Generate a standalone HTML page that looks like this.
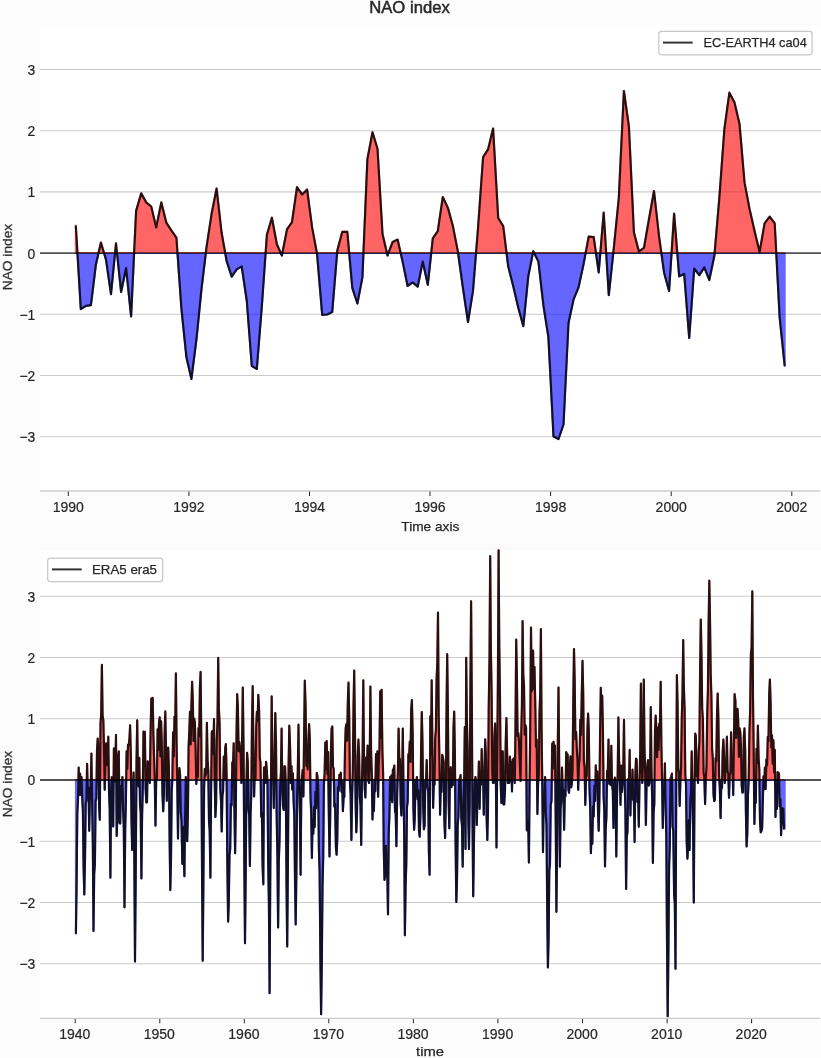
<!DOCTYPE html>
<html><head><meta charset="utf-8"><title>NAO index</title>
<style>
html,body{margin:0;padding:0;background:#fcfcfc;}
body{width:821px;height:1058px;overflow:hidden;position:relative;font-family:"Liberation Sans", sans-serif;}
.t{font-family:"Liberation Sans", sans-serif;font-size:13.4px;fill:#262626;stroke:#262626;stroke-width:0.25px;filter:url(#ga);}
.d{font-family:"Liberation Sans", sans-serif;font-size:13.9px;fill:#262626;stroke:#262626;stroke-width:0.2px;filter:url(#ga);}
</style></head><body>
<svg width="821" height="1058" viewBox="0 0 821 1058" style="position:absolute;left:0;top:0">
<defs><filter id="ga" x="-5%" y="-50%" width="110%" height="200%" color-interpolation-filters="sRGB"><feOffset dx="0" dy="0"/></filter></defs>
<rect x="0" y="0" width="821" height="1058" fill="#fcfcfc"/>
<rect x="40" y="25" width="781" height="466" fill="#ffffff"/>
<rect x="40" y="551" width="781" height="467" fill="#ffffff"/>
<line x1="40" x2="821" y1="69.5" y2="69.5" stroke="#cccccc" stroke-width="1.1"/>
<line x1="40" x2="821" y1="130.7" y2="130.7" stroke="#cccccc" stroke-width="1.1"/>
<line x1="40" x2="821" y1="191.9" y2="191.9" stroke="#cccccc" stroke-width="1.1"/>
<line x1="40" x2="821" y1="314.3" y2="314.3" stroke="#cccccc" stroke-width="1.1"/>
<line x1="40" x2="821" y1="375.5" y2="375.5" stroke="#cccccc" stroke-width="1.1"/>
<line x1="40" x2="821" y1="436.7" y2="436.7" stroke="#cccccc" stroke-width="1.1"/>
<clipPath id="up1"><rect x="0" y="25" width="821" height="228.1"/></clipPath>
<clipPath id="dn1"><rect x="0" y="253.1" width="821" height="237.9"/></clipPath>
<g clip-path="url(#up1)"><path d="M75.8,225.5 L80.8,309.1 L85.9,305.9 L90.9,305.2 L95.9,264.5 L100.9,242.6 L106.0,259.6 L111.0,294.2 L116.0,243.3 L121.1,292.0 L126.1,268.1 L131.1,316.4 L136.1,210.9 L141.2,193.4 L146.2,202.4 L151.2,206.5 L156.2,227.5 L161.3,202.4 L166.3,222.6 L171.3,230.4 L176.4,237.7 L181.4,308.3 L186.4,357.1 L191.4,379.0 L196.5,338.8 L201.5,288.9 L206.5,247.4 L211.6,213.8 L216.6,188.5 L221.6,232.8 L226.6,260.8 L231.7,276.7 L236.7,269.4 L241.7,266.4 L246.8,301.0 L251.8,366.0 L256.8,369.0 L261.8,306.7 L266.9,234.8 L271.9,217.7 L276.9,244.5 L281.9,255.5 L287.0,229.4 L292.0,222.1 L297.0,187.2 L302.1,194.5 L307.1,189.6 L312.1,227.4 L317.1,254.3 L322.2,314.8 L327.2,314.5 L332.2,312.1 L337.3,250.6 L342.3,231.8 L347.3,231.8 L352.3,287.9 L357.4,303.5 L362.4,277.4 L367.4,159.1 L372.5,132.3 L377.5,148.9 L382.5,234.0 L387.5,255.5 L392.6,242.1 L397.6,239.6 L402.6,261.6 L407.6,286.0 L412.7,282.3 L417.7,286.7 L422.7,261.6 L427.8,284.8 L432.8,238.4 L437.8,231.1 L442.8,197.0 L447.9,207.9 L452.9,226.1 L457.9,251.7 L463.0,288.3 L468.0,322.0 L473.0,290.7 L478.0,228.5 L483.1,157.1 L488.1,149.3 L493.1,128.5 L498.2,218.0 L503.2,226.1 L508.2,266.3 L513.2,285.9 L518.3,307.8 L523.3,326.1 L528.3,276.1 L533.3,251.2 L538.4,261.5 L543.4,305.4 L548.4,337.1 L553.5,436.4 L558.5,439.0 L563.5,424.5 L568.5,323.0 L573.6,299.3 L578.6,287.1 L583.6,263.9 L588.7,236.6 L593.7,237.1 L598.7,272.4 L603.7,212.7 L608.8,295.1 L613.8,248.0 L618.8,198.0 L623.9,91.0 L628.9,126.3 L633.9,232.4 L638.9,251.5 L644.0,247.8 L649.0,219.0 L654.0,191.0 L659.0,236.1 L664.1,272.7 L669.1,291.0 L674.1,213.7 L679.2,276.3 L684.2,273.9 L689.2,338.0 L694.2,268.5 L699.3,275.1 L704.3,267.3 L709.3,280.0 L714.4,255.6 L719.4,197.1 L724.4,128.8 L729.4,92.7 L734.5,102.4 L739.5,123.9 L744.5,182.4 L749.6,209.3 L754.6,231.2 L759.6,252.0 L764.6,223.4 L769.7,216.6 L774.7,223.4 L779.7,318.0 L784.7,366.0 L784.7,253.1 L75.8,253.1 Z" fill="#ff0000" stroke="#ff0000" stroke-width="2.0" stroke-linejoin="round" opacity="0.6"/></g>
<g clip-path="url(#dn1)"><path d="M75.8,225.5 L80.8,309.1 L85.9,305.9 L90.9,305.2 L95.9,264.5 L100.9,242.6 L106.0,259.6 L111.0,294.2 L116.0,243.3 L121.1,292.0 L126.1,268.1 L131.1,316.4 L136.1,210.9 L141.2,193.4 L146.2,202.4 L151.2,206.5 L156.2,227.5 L161.3,202.4 L166.3,222.6 L171.3,230.4 L176.4,237.7 L181.4,308.3 L186.4,357.1 L191.4,379.0 L196.5,338.8 L201.5,288.9 L206.5,247.4 L211.6,213.8 L216.6,188.5 L221.6,232.8 L226.6,260.8 L231.7,276.7 L236.7,269.4 L241.7,266.4 L246.8,301.0 L251.8,366.0 L256.8,369.0 L261.8,306.7 L266.9,234.8 L271.9,217.7 L276.9,244.5 L281.9,255.5 L287.0,229.4 L292.0,222.1 L297.0,187.2 L302.1,194.5 L307.1,189.6 L312.1,227.4 L317.1,254.3 L322.2,314.8 L327.2,314.5 L332.2,312.1 L337.3,250.6 L342.3,231.8 L347.3,231.8 L352.3,287.9 L357.4,303.5 L362.4,277.4 L367.4,159.1 L372.5,132.3 L377.5,148.9 L382.5,234.0 L387.5,255.5 L392.6,242.1 L397.6,239.6 L402.6,261.6 L407.6,286.0 L412.7,282.3 L417.7,286.7 L422.7,261.6 L427.8,284.8 L432.8,238.4 L437.8,231.1 L442.8,197.0 L447.9,207.9 L452.9,226.1 L457.9,251.7 L463.0,288.3 L468.0,322.0 L473.0,290.7 L478.0,228.5 L483.1,157.1 L488.1,149.3 L493.1,128.5 L498.2,218.0 L503.2,226.1 L508.2,266.3 L513.2,285.9 L518.3,307.8 L523.3,326.1 L528.3,276.1 L533.3,251.2 L538.4,261.5 L543.4,305.4 L548.4,337.1 L553.5,436.4 L558.5,439.0 L563.5,424.5 L568.5,323.0 L573.6,299.3 L578.6,287.1 L583.6,263.9 L588.7,236.6 L593.7,237.1 L598.7,272.4 L603.7,212.7 L608.8,295.1 L613.8,248.0 L618.8,198.0 L623.9,91.0 L628.9,126.3 L633.9,232.4 L638.9,251.5 L644.0,247.8 L649.0,219.0 L654.0,191.0 L659.0,236.1 L664.1,272.7 L669.1,291.0 L674.1,213.7 L679.2,276.3 L684.2,273.9 L689.2,338.0 L694.2,268.5 L699.3,275.1 L704.3,267.3 L709.3,280.0 L714.4,255.6 L719.4,197.1 L724.4,128.8 L729.4,92.7 L734.5,102.4 L739.5,123.9 L744.5,182.4 L749.6,209.3 L754.6,231.2 L759.6,252.0 L764.6,223.4 L769.7,216.6 L774.7,223.4 L779.7,318.0 L784.7,366.0 L784.7,253.1 L75.8,253.1 Z" fill="#0000ff" stroke="#0000ff" stroke-width="2.0" stroke-linejoin="round" opacity="0.6"/></g>
<path d="M75.8,225.5 L80.8,309.1 L85.9,305.9 L90.9,305.2 L95.9,264.5 L100.9,242.6 L106.0,259.6 L111.0,294.2 L116.0,243.3 L121.1,292.0 L126.1,268.1 L131.1,316.4 L136.1,210.9 L141.2,193.4 L146.2,202.4 L151.2,206.5 L156.2,227.5 L161.3,202.4 L166.3,222.6 L171.3,230.4 L176.4,237.7 L181.4,308.3 L186.4,357.1 L191.4,379.0 L196.5,338.8 L201.5,288.9 L206.5,247.4 L211.6,213.8 L216.6,188.5 L221.6,232.8 L226.6,260.8 L231.7,276.7 L236.7,269.4 L241.7,266.4 L246.8,301.0 L251.8,366.0 L256.8,369.0 L261.8,306.7 L266.9,234.8 L271.9,217.7 L276.9,244.5 L281.9,255.5 L287.0,229.4 L292.0,222.1 L297.0,187.2 L302.1,194.5 L307.1,189.6 L312.1,227.4 L317.1,254.3 L322.2,314.8 L327.2,314.5 L332.2,312.1 L337.3,250.6 L342.3,231.8 L347.3,231.8 L352.3,287.9 L357.4,303.5 L362.4,277.4 L367.4,159.1 L372.5,132.3 L377.5,148.9 L382.5,234.0 L387.5,255.5 L392.6,242.1 L397.6,239.6 L402.6,261.6 L407.6,286.0 L412.7,282.3 L417.7,286.7 L422.7,261.6 L427.8,284.8 L432.8,238.4 L437.8,231.1 L442.8,197.0 L447.9,207.9 L452.9,226.1 L457.9,251.7 L463.0,288.3 L468.0,322.0 L473.0,290.7 L478.0,228.5 L483.1,157.1 L488.1,149.3 L493.1,128.5 L498.2,218.0 L503.2,226.1 L508.2,266.3 L513.2,285.9 L518.3,307.8 L523.3,326.1 L528.3,276.1 L533.3,251.2 L538.4,261.5 L543.4,305.4 L548.4,337.1 L553.5,436.4 L558.5,439.0 L563.5,424.5 L568.5,323.0 L573.6,299.3 L578.6,287.1 L583.6,263.9 L588.7,236.6 L593.7,237.1 L598.7,272.4 L603.7,212.7 L608.8,295.1 L613.8,248.0 L618.8,198.0 L623.9,91.0 L628.9,126.3 L633.9,232.4 L638.9,251.5 L644.0,247.8 L649.0,219.0 L654.0,191.0 L659.0,236.1 L664.1,272.7 L669.1,291.0 L674.1,213.7 L679.2,276.3 L684.2,273.9 L689.2,338.0 L694.2,268.5 L699.3,275.1 L704.3,267.3 L709.3,280.0 L714.4,255.6 L719.4,197.1 L724.4,128.8 L729.4,92.7 L734.5,102.4 L739.5,123.9 L744.5,182.4 L749.6,209.3 L754.6,231.2 L759.6,252.0 L764.6,223.4 L769.7,216.6 L774.7,223.4 L779.7,318.0 L784.7,366.0" fill="none" stroke="#000000" stroke-opacity="0.84" stroke-width="2.2" stroke-linejoin="round" stroke-linecap="butt"/>

<line x1="40" x2="821" y1="253.1" y2="253.1" stroke="#000000" stroke-opacity="0.68" stroke-width="1.85"/>
<line x1="40" x2="820" y1="491" y2="491" stroke="#cccccc" stroke-width="1.3"/>
<line x1="68.3" x2="68.3" y1="491.6" y2="496" stroke="#262626" stroke-width="1"/>
<text x="68.3" y="512.1" text-anchor="middle" class="d" textLength="31.2" lengthAdjust="spacingAndGlyphs">1990</text>
<line x1="188.9" x2="188.9" y1="491.6" y2="496" stroke="#262626" stroke-width="1"/>
<text x="188.9" y="512.1" text-anchor="middle" class="d" textLength="31.2" lengthAdjust="spacingAndGlyphs">1992</text>
<line x1="309.5" x2="309.5" y1="491.6" y2="496" stroke="#262626" stroke-width="1"/>
<text x="309.5" y="512.1" text-anchor="middle" class="d" textLength="31.2" lengthAdjust="spacingAndGlyphs">1994</text>
<line x1="430.0" x2="430.0" y1="491.6" y2="496" stroke="#262626" stroke-width="1"/>
<text x="430.0" y="512.1" text-anchor="middle" class="d" textLength="31.2" lengthAdjust="spacingAndGlyphs">1996</text>
<line x1="550.6" x2="550.6" y1="491.6" y2="496" stroke="#262626" stroke-width="1"/>
<text x="550.6" y="512.1" text-anchor="middle" class="d" textLength="31.2" lengthAdjust="spacingAndGlyphs">1998</text>
<line x1="671.2" x2="671.2" y1="491.6" y2="496" stroke="#262626" stroke-width="1"/>
<text x="671.2" y="512.1" text-anchor="middle" class="d" textLength="31.2" lengthAdjust="spacingAndGlyphs">2000</text>
<line x1="791.8" x2="791.8" y1="491.6" y2="496" stroke="#262626" stroke-width="1"/>
<text x="791.8" y="512.1" text-anchor="middle" class="d" textLength="31.2" lengthAdjust="spacingAndGlyphs">2002</text>
<text x="35.3" y="74.9" text-anchor="end" class="d">3</text>
<text x="35.3" y="136.1" text-anchor="end" class="d">2</text>
<text x="35.3" y="197.3" text-anchor="end" class="d">1</text>
<text x="35.3" y="258.5" text-anchor="end" class="d">0</text>
<text x="35.3" y="319.7" text-anchor="end" class="d">−1</text>
<text x="35.3" y="380.9" text-anchor="end" class="d">−2</text>
<text x="35.3" y="442.1" text-anchor="end" class="d">−3</text>
<text x="430.3" y="530.9" text-anchor="middle" class="t" textLength="58" lengthAdjust="spacingAndGlyphs">Time axis</text>
<text transform="translate(11.8,257) rotate(-90)" text-anchor="middle" class="t" textLength="66.5" lengthAdjust="spacingAndGlyphs">NAO index</text>
<text x="409.5" y="13.1" text-anchor="middle" class="t" style="font-size:16.2px;stroke-width:0.45px" textLength="80.5" lengthAdjust="spacingAndGlyphs">NAO index</text>
<rect x="658.8" y="31.3" width="153.3" height="23.6" rx="2.8" fill="#ffffff" fill-opacity="0.8" stroke="#c8c8c8" stroke-width="1.25"/>
<line x1="663" x2="692.7" y1="42.6" y2="42.6" stroke="#333333" stroke-width="2"/>
<text x="703.4" y="47.2" class="t" textLength="103.4" lengthAdjust="spacingAndGlyphs">EC-EARTH4 ca04</text>
<line x1="40" x2="821" y1="596.2" y2="596.2" stroke="#cccccc" stroke-width="1.1"/>
<line x1="40" x2="821" y1="657.5" y2="657.5" stroke="#cccccc" stroke-width="1.1"/>
<line x1="40" x2="821" y1="718.7" y2="718.7" stroke="#cccccc" stroke-width="1.1"/>
<line x1="40" x2="821" y1="841.3" y2="841.3" stroke="#cccccc" stroke-width="1.1"/>
<line x1="40" x2="821" y1="902.5" y2="902.5" stroke="#cccccc" stroke-width="1.1"/>
<line x1="40" x2="821" y1="963.8" y2="963.8" stroke="#cccccc" stroke-width="1.1"/>
<clipPath id="up2"><rect x="0" y="540" width="821" height="240.0"/></clipPath>
<clipPath id="dn2"><rect x="0" y="780.0" width="821" height="238.5"/></clipPath>
<g clip-path="url(#up2)"><path d="M75.9,933.8 L76.6,884.7 L77.3,813.8 L78.0,799.5 L78.7,767.5 L79.4,794.9 L80.1,773.7 L80.8,794.8 L81.5,777.0 L82.2,797.5 L82.9,810.5 L83.6,868.3 L84.3,894.5 L85.0,859.8 L85.7,803.4 L86.4,800.6 L87.1,763.8 L87.8,792.2 L88.5,787.4 L89.2,830.8 L90.0,790.0 L90.7,788.9 L91.4,753.6 L92.1,800.2 L92.8,840.4 L93.5,930.9 L94.2,873.6 L94.9,864.2 L95.6,800.9 L96.3,798.7 L97.0,750.6 L97.7,738.5 L98.4,749.7 L99.1,807.0 L99.8,819.8 L100.5,723.5 L101.2,713.6 L101.9,664.9 L102.6,715.7 L103.3,719.9 L104.0,746.7 L104.7,789.8 L105.5,759.2 L106.2,743.3 L106.9,748.1 L107.6,765.3 L108.3,736.7 L109.0,791.1 L109.7,808.7 L110.4,877.7 L111.1,793.8 L111.8,777.0 L112.5,783.4 L113.2,826.4 L113.9,748.4 L114.6,781.4 L115.3,767.4 L116.0,734.9 L116.7,835.9 L117.4,815.9 L118.1,757.1 L118.8,751.4 L119.5,822.7 L120.2,823.5 L121.0,785.8 L121.7,790.6 L122.4,777.0 L123.1,809.2 L123.8,828.1 L124.5,907.3 L125.2,830.1 L125.9,800.8 L126.6,751.4 L127.3,768.9 L128.0,744.7 L128.7,745.5 L129.4,739.7 L130.1,725.3 L130.8,753.0 L131.5,820.4 L132.2,849.9 L132.9,813.9 L133.6,772.6 L134.3,854.7 L135.0,961.6 L135.7,879.1 L136.5,762.6 L137.2,720.3 L137.9,771.2 L138.6,786.4 L139.3,757.9 L140.0,803.7 L140.7,813.3 L141.4,878.4 L142.1,815.0 L142.8,788.3 L143.5,731.6 L144.2,766.1 L144.9,731.9 L145.6,788.8 L146.3,802.5 L147.0,802.3 L147.7,761.3 L148.4,765.3 L149.1,767.4 L149.8,783.0 L150.5,737.8 L151.3,698.6 L152.0,712.9 L152.7,697.9 L153.4,735.8 L154.1,757.2 L154.8,780.6 L155.5,825.7 L156.2,778.6 L156.9,779.7 L157.6,729.4 L158.3,750.0 L159.0,722.6 L159.7,717.4 L160.4,756.5 L161.1,721.3 L161.8,743.6 L162.5,794.2 L163.2,811.3 L163.9,794.3 L164.6,734.0 L165.3,711.4 L166.0,747.4 L166.8,800.8 L167.5,769.5 L168.2,747.7 L168.9,768.4 L169.6,838.7 L170.3,890.1 L171.0,859.3 L171.7,790.4 L172.4,778.8 L173.1,732.3 L173.8,756.4 L174.5,716.8 L175.2,725.9 L175.9,673.4 L176.6,744.3 L177.3,785.2 L178.0,838.6 L178.7,782.0 L179.4,768.2 L180.1,775.2 L180.8,812.3 L181.5,820.5 L182.3,863.8 L183.0,826.8 L183.7,852.8 L184.4,876.2 L185.1,817.4 L185.8,777.0 L186.5,815.9 L187.2,841.1 L187.9,813.4 L188.6,747.0 L189.3,730.8 L190.0,711.8 L190.7,744.5 L191.4,706.1 L192.1,681.8 L192.8,699.9 L193.5,741.0 L194.2,718.7 L194.9,722.1 L195.6,748.8 L196.3,783.9 L197.0,763.8 L197.8,777.1 L198.5,728.0 L199.2,736.5 L199.9,688.1 L200.6,671.9 L201.3,739.7 L202.0,864.9 L202.7,960.8 L203.4,882.4 L204.1,787.3 L204.8,768.9 L205.5,775.6 L206.2,772.2 L206.9,722.8 L207.6,760.2 L208.3,771.0 L209.0,821.1 L209.7,830.8 L210.4,877.7 L211.1,790.1 L211.8,732.3 L212.5,730.9 L213.3,753.8 L214.0,719.1 L214.7,778.9 L215.4,816.9 L216.1,803.8 L216.8,740.0 L217.5,721.4 L218.2,657.9 L218.9,708.9 L219.6,723.2 L220.3,789.7 L221.0,800.4 L221.7,831.5 L222.4,796.0 L223.1,791.0 L223.8,756.5 L224.5,779.4 L225.2,747.9 L225.9,744.0 L226.6,773.9 L227.3,861.2 L228.1,921.6 L228.8,903.1 L229.5,854.8 L230.2,849.1 L230.9,804.0 L231.6,805.6 L232.3,762.4 L233.0,766.2 L233.7,743.3 L234.4,807.6 L235.1,853.2 L235.8,809.9 L236.5,734.7 L237.2,694.2 L237.9,707.3 L238.6,751.2 L239.3,741.9 L240.0,748.4 L240.7,754.6 L241.4,783.0 L242.1,741.5 L242.8,687.6 L243.6,751.4 L244.3,860.8 L245.0,943.2 L245.7,875.3 L246.4,786.6 L247.1,752.8 L247.8,762.1 L248.5,809.6 L249.2,815.0 L249.9,866.0 L250.6,812.5 L251.3,794.0 L252.0,721.9 L252.7,686.2 L253.4,744.2 L254.1,796.4 L254.8,768.8 L255.5,779.9 L256.2,727.1 L256.9,711.8 L257.6,720.6 L258.3,694.9 L259.1,710.6 L259.8,757.0 L260.5,763.7 L261.2,816.7 L261.9,813.0 L262.6,866.1 L263.3,884.3 L264.0,767.5 L264.7,767.3 L265.4,783.0 L266.1,761.8 L266.8,770.4 L267.5,783.1 L268.2,863.2 L268.9,903.1 L269.6,993.2 L270.3,869.3 L271.0,782.8 L271.7,696.4 L272.4,757.0 L273.1,770.8 L273.8,808.1 L274.6,756.8 L275.3,713.0 L276.0,742.5 L276.7,817.8 L277.4,854.6 L278.1,927.4 L278.8,861.8 L279.5,841.3 L280.2,785.2 L280.9,773.0 L281.6,728.6 L282.3,788.8 L283.0,806.6 L283.7,809.9 L284.4,766.2 L285.1,766.7 L285.8,784.0 L286.5,882.2 L287.2,946.4 L287.9,866.5 L288.6,765.1 L289.3,725.7 L290.1,746.7 L290.8,783.0 L291.5,766.2 L292.2,789.5 L292.9,773.3 L293.6,801.2 L294.3,815.1 L295.0,879.3 L295.7,924.4 L296.4,872.1 L297.1,796.1 L297.8,770.5 L298.5,724.7 L299.2,783.5 L299.9,813.3 L300.6,874.8 L301.3,793.1 L302.0,777.0 L302.7,769.8 L303.4,796.4 L304.1,735.2 L304.8,680.7 L305.6,706.3 L306.3,765.8 L307.0,752.8 L307.7,769.4 L308.4,739.9 L309.1,724.2 L309.8,738.0 L310.5,795.5 L311.2,813.3 L311.9,857.9 L312.6,820.1 L313.3,833.8 L314.0,807.0 L314.7,827.1 L315.4,791.8 L316.1,808.2 L316.8,772.9 L317.5,777.0 L318.2,786.5 L318.9,849.4 L319.6,870.8 L320.4,959.4 L321.1,1014.2 L321.8,963.3 L322.5,887.4 L323.2,857.6 L323.9,784.7 L324.6,773.6 L325.3,742.6 L326.0,769.2 L326.7,741.0 L327.4,774.3 L328.1,752.1 L328.8,812.2 L329.5,856.4 L330.2,817.3 L330.9,752.5 L331.6,728.6 L332.3,726.5 L333.0,766.8 L333.7,768.8 L334.4,806.7 L335.1,804.1 L335.9,847.4 L336.6,854.7 L337.3,838.5 L338.0,787.3 L338.7,791.0 L339.4,774.8 L340.1,783.9 L340.8,772.7 L341.5,791.8 L342.2,781.5 L342.9,811.1 L343.6,797.8 L344.3,796.9 L345.0,748.7 L345.7,727.9 L346.4,724.2 L347.1,740.6 L347.8,702.8 L348.5,682.5 L349.2,714.6 L349.9,781.7 L350.6,794.0 L351.4,840.0 L352.1,795.4 L352.8,772.1 L353.5,707.3 L354.2,670.5 L354.9,724.1 L355.6,801.4 L356.3,832.3 L357.0,815.3 L357.7,757.1 L358.4,739.6 L359.1,754.5 L359.8,796.4 L360.5,805.9 L361.2,845.0 L361.9,783.3 L362.6,754.8 L363.3,680.3 L364.0,760.6 L364.7,788.3 L365.4,797.4 L366.1,757.6 L366.9,770.5 L367.6,745.5 L368.3,780.3 L369.0,783.0 L369.7,762.4 L370.4,686.6 L371.1,752.7 L371.8,773.3 L372.5,819.5 L373.2,795.0 L373.9,811.0 L374.6,779.6 L375.3,791.2 L376.0,754.0 L376.7,766.4 L377.4,751.4 L378.1,796.7 L378.8,762.1 L379.5,747.8 L380.2,691.3 L380.9,737.9 L381.6,689.8 L382.4,751.6 L383.1,772.5 L383.8,850.4 L384.5,879.9 L385.2,875.9 L385.9,845.8 L386.6,874.2 L387.3,874.0 L388.0,914.3 L388.7,833.6 L389.4,815.8 L390.1,777.0 L390.8,799.3 L391.5,775.3 L392.2,802.2 L392.9,769.6 L393.6,769.7 L394.3,765.6 L395.0,811.5 L395.7,813.3 L396.4,846.2 L397.2,792.4 L397.9,770.8 L398.6,728.6 L399.3,759.3 L400.0,759.1 L400.7,803.4 L401.4,815.4 L402.1,782.0 L402.8,728.6 L403.5,787.3 L404.2,835.4 L404.9,935.3 L405.6,886.3 L406.3,863.4 L407.0,806.8 L407.7,801.7 L408.4,754.2 L409.1,755.8 L409.8,741.6 L410.5,762.0 L411.2,709.1 L411.9,700.1 L412.7,733.6 L413.4,808.2 L414.1,829.8 L414.8,817.7 L415.5,779.9 L416.2,795.9 L416.9,777.0 L417.6,799.2 L418.3,790.3 L419.0,830.7 L419.7,836.7 L420.4,815.5 L421.1,747.4 L421.8,712.1 L422.5,742.9 L423.2,807.1 L423.9,829.3 L424.6,825.3 L425.3,780.6 L426.0,781.2 L426.7,760.1 L427.4,787.0 L428.2,791.0 L428.9,853.0 L429.6,874.8 L430.3,716.2 L431.0,754.5 L431.7,680.3 L432.4,745.3 L433.1,807.8 L433.8,783.7 L434.5,784.7 L435.2,737.8 L435.9,730.0 L436.6,678.9 L437.3,662.7 L438.0,612.6 L438.7,716.5 L439.4,758.1 L440.1,814.7 L440.8,784.1 L441.5,792.0 L442.2,754.8 L442.9,757.2 L443.7,762.7 L444.4,820.8 L445.1,838.1 L445.8,801.2 L446.5,712.2 L447.2,654.2 L447.9,708.6 L448.6,800.7 L449.3,828.3 L450.0,769.7 L450.7,767.2 L451.4,787.1 L452.1,783.0 L452.8,785.1 L453.5,727.4 L454.2,711.5 L454.9,752.7 L455.6,843.4 L456.3,901.9 L457.0,880.1 L457.7,825.1 L458.4,816.9 L459.2,779.6 L459.9,778.5 L460.6,775.2 L461.3,818.1 L462.0,825.6 L462.7,866.7 L463.4,801.6 L464.1,785.2 L464.8,727.2 L465.5,849.1 L466.2,657.9 L466.9,720.2 L467.6,747.7 L468.3,821.5 L469.0,849.1 L469.7,801.9 L470.4,685.2 L471.1,601.3 L471.8,697.3 L472.5,818.8 L473.2,896.3 L473.9,846.7 L474.7,786.5 L475.4,777.0 L476.1,783.0 L476.8,824.9 L477.5,792.1 L478.2,788.7 L478.9,761.6 L479.6,808.8 L480.3,779.7 L481.0,784.5 L481.7,749.2 L482.4,777.7 L483.1,774.5 L483.8,814.7 L484.5,766.0 L485.2,739.3 L485.9,755.6 L486.6,816.2 L487.3,840.0 L488.0,809.9 L488.7,709.8 L489.5,658.2 L490.2,556.2 L490.9,651.1 L491.6,692.2 L492.3,774.2 L493.0,783.0 L493.7,782.9 L494.4,735.9 L495.1,723.5 L495.8,765.7 L496.5,847.4 L497.2,763.8 L497.9,680.5 L498.6,550.3 L499.3,646.6 L500.0,696.9 L500.7,783.9 L501.4,803.0 L502.1,751.4 L502.8,751.4 L503.5,804.4 L504.2,804.4 L505.0,791.2 L505.7,743.4 L506.4,718.1 L507.1,751.3 L507.8,783.0 L508.5,769.1 L509.2,783.0 L509.9,756.5 L510.6,781.0 L511.3,762.0 L512.0,791.4 L512.7,759.3 L513.4,761.6 L514.1,758.2 L514.8,783.0 L515.5,724.7 L516.2,639.6 L516.9,675.8 L517.6,735.9 L518.3,733.0 L519.0,741.1 L519.7,760.2 L520.5,781.0 L521.2,736.7 L521.9,706.7 L522.6,621.0 L523.3,675.2 L524.0,684.5 L524.7,734.7 L525.4,725.2 L526.1,727.9 L526.8,830.1 L527.5,830.6 L528.2,820.3 L528.9,862.6 L529.6,784.8 L530.3,723.3 L531.0,627.5 L531.7,691.3 L532.4,668.3 L533.1,650.7 L533.8,689.2 L534.5,667.1 L535.2,701.2 L536.0,747.0 L536.7,739.6 L537.4,814.0 L538.1,782.8 L538.8,774.5 L539.5,713.7 L540.2,694.0 L540.9,629.2 L541.6,730.8 L542.3,784.3 L543.0,852.1 L543.7,799.5 L544.4,801.6 L545.1,777.0 L545.8,814.1 L546.5,825.5 L547.2,907.8 L547.9,967.5 L548.6,939.4 L549.3,870.7 L550.0,863.8 L550.7,805.0 L551.5,800.7 L552.2,743.7 L552.9,745.8 L553.6,741.8 L554.3,768.8 L555.0,745.5 L555.7,819.6 L556.4,911.8 L557.1,845.2 L557.8,744.0 L558.5,687.6 L559.2,763.2 L559.9,866.7 L560.6,808.7 L561.3,801.5 L562.0,767.5 L562.7,790.4 L563.4,789.8 L564.1,829.8 L564.8,794.8 L565.5,796.3 L566.2,752.2 L567.0,754.3 L567.7,754.6 L568.4,789.8 L569.1,792.7 L569.8,767.5 L570.5,756.4 L571.2,787.3 L571.9,783.0 L572.6,769.2 L573.3,697.1 L574.0,649.1 L574.7,680.5 L575.4,739.3 L576.1,731.8 L576.8,748.4 L577.5,761.1 L578.2,789.8 L578.9,764.8 L579.6,758.5 L580.3,719.9 L581.0,735.0 L581.8,692.4 L582.5,660.8 L583.2,692.1 L583.9,761.7 L584.6,767.5 L585.3,804.9 L586.0,777.9 L586.7,775.7 L587.4,729.9 L588.1,713.6 L588.8,729.2 L589.5,788.9 L590.2,806.7 L590.9,853.2 L591.6,831.2 L592.3,843.8 L593.0,806.4 L593.7,816.5 L594.4,785.6 L595.1,801.0 L595.8,765.4 L596.5,785.7 L597.3,771.6 L598.0,810.5 L598.7,830.8 L599.4,798.2 L600.1,731.1 L600.8,687.8 L601.5,714.4 L602.2,695.7 L602.9,728.7 L603.6,796.4 L604.3,810.3 L605.0,866.4 L605.7,829.0 L606.4,817.3 L607.1,770.9 L607.8,773.6 L608.5,739.6 L609.2,783.8 L609.9,783.0 L610.6,785.0 L611.3,745.8 L612.0,783.8 L612.8,791.2 L613.5,827.9 L614.2,784.0 L614.9,777.7 L615.6,796.0 L616.3,856.4 L617.0,796.6 L617.7,773.5 L618.4,717.4 L619.1,760.2 L619.8,773.0 L620.5,804.9 L621.2,765.7 L621.9,792.0 L622.6,783.0 L623.3,767.6 L624.0,719.9 L624.7,783.3 L625.4,809.5 L626.1,889.0 L626.8,836.2 L627.5,832.0 L628.3,779.0 L629.0,780.5 L629.7,749.9 L630.4,815.4 L631.1,782.8 L631.8,798.8 L632.5,769.7 L633.2,799.8 L633.9,800.9 L634.6,842.1 L635.3,776.8 L636.0,758.7 L636.7,759.6 L637.4,801.9 L638.1,792.2 L638.8,826.8 L639.5,781.7 L640.2,753.3 L640.9,683.7 L641.6,763.4 L642.3,783.0 L643.0,760.0 L643.8,679.6 L644.5,747.8 L645.2,774.4 L645.9,824.9 L646.6,781.5 L647.3,765.3 L648.0,760.2 L648.7,785.6 L649.4,783.0 L650.1,769.2 L650.8,707.1 L651.5,770.3 L652.2,799.3 L652.9,863.0 L653.6,812.3 L654.3,804.0 L655.0,731.2 L655.7,715.5 L656.4,729.4 L657.1,757.3 L657.8,727.6 L658.6,750.0 L659.3,723.6 L660.0,722.8 L660.7,681.8 L661.4,745.9 L662.1,781.0 L662.8,827.9 L663.5,789.4 L664.2,797.1 L664.9,763.4 L665.6,805.3 L666.3,835.7 L667.0,942.0 L667.7,1016.3 L668.4,952.9 L669.1,867.0 L669.8,846.7 L670.5,778.4 L671.2,777.0 L671.9,773.6 L672.6,826.2 L673.3,831.0 L674.1,894.2 L674.8,903.3 L675.5,968.8 L676.2,791.0 L676.9,675.2 L677.6,705.2 L678.3,769.4 L679.0,772.9 L679.7,805.9 L680.4,780.0 L681.1,765.8 L681.8,717.1 L682.5,692.6 L683.2,640.0 L683.9,688.0 L684.6,708.2 L685.3,774.5 L686.0,784.3 L686.7,842.1 L687.4,858.6 L688.1,847.2 L688.8,820.2 L689.6,849.9 L690.3,799.8 L691.0,792.5 L691.7,751.4 L692.4,797.2 L693.1,830.8 L693.8,902.6 L694.5,787.9 L695.2,733.5 L695.9,736.0 L696.6,776.3 L697.3,766.2 L698.0,783.0 L698.7,751.8 L699.4,741.5 L700.1,670.2 L700.8,619.6 L701.5,655.4 L702.2,709.0 L702.9,719.3 L703.6,772.8 L704.3,777.0 L705.1,804.0 L705.8,778.1 L706.5,766.9 L707.2,713.9 L707.9,691.0 L708.6,624.3 L709.3,580.7 L710.0,618.7 L710.7,674.0 L711.4,695.8 L712.1,749.4 L712.8,758.6 L713.5,794.0 L714.2,801.1 L714.9,799.8 L715.6,758.2 L716.3,761.4 L717.0,714.3 L717.7,693.5 L718.4,718.5 L719.1,775.0 L719.8,788.2 L720.6,818.1 L721.3,781.7 L722.0,788.0 L722.7,751.4 L723.4,739.6 L724.1,755.7 L724.8,783.0 L725.5,766.0 L726.2,771.6 L726.9,736.7 L727.6,770.8 L728.3,774.2 L729.0,797.8 L729.7,774.3 L730.4,773.2 L731.1,732.3 L731.8,767.1 L732.5,763.8 L733.2,794.9 L733.9,744.8 L734.6,694.2 L735.4,700.6 L736.1,738.0 L736.8,716.6 L737.5,708.9 L738.2,720.5 L738.9,756.9 L739.6,728.3 L740.3,732.3 L741.0,746.9 L741.7,785.7 L742.4,792.7 L743.1,792.2 L743.8,737.2 L744.5,728.4 L745.2,751.1 L745.9,812.0 L746.6,846.5 L747.3,833.4 L748.0,794.2 L748.7,780.3 L749.4,733.1 L750.1,711.7 L750.9,654.0 L751.6,647.2 L752.3,591.4 L753.0,697.6 L753.7,752.4 L754.4,823.9 L755.1,794.6 L755.8,802.8 L756.5,748.8 L757.2,763.0 L757.9,725.7 L758.6,758.0 L759.3,769.5 L760.0,820.6 L760.7,832.3 L761.4,831.0 L762.1,828.6 L762.8,802.0 L763.5,776.3 L764.2,789.3 L764.9,767.5 L765.6,789.0 L766.4,759.4 L767.1,765.5 L767.8,736.8 L768.5,741.1 L769.2,693.7 L769.9,679.6 L770.6,702.3 L771.3,747.6 L772.0,735.2 L772.7,763.7 L773.4,740.2 L774.1,772.5 L774.8,749.9 L775.5,816.9 L776.2,790.1 L776.9,808.9 L777.6,772.0 L778.3,777.7 L779.0,773.4 L779.7,806.4 L780.4,798.9 L781.1,835.2 L781.9,808.1 L782.6,823.7 L783.3,808.5 L784.0,828.6 L784.7,828.6 L784.7,780.0 L75.9,780.0 Z" fill="#ff0000" stroke="#ff0000" stroke-width="2.0" stroke-linejoin="round" opacity="0.6"/></g>
<g clip-path="url(#dn2)"><path d="M75.9,933.8 L76.6,884.7 L77.3,813.8 L78.0,799.5 L78.7,767.5 L79.4,794.9 L80.1,773.7 L80.8,794.8 L81.5,777.0 L82.2,797.5 L82.9,810.5 L83.6,868.3 L84.3,894.5 L85.0,859.8 L85.7,803.4 L86.4,800.6 L87.1,763.8 L87.8,792.2 L88.5,787.4 L89.2,830.8 L90.0,790.0 L90.7,788.9 L91.4,753.6 L92.1,800.2 L92.8,840.4 L93.5,930.9 L94.2,873.6 L94.9,864.2 L95.6,800.9 L96.3,798.7 L97.0,750.6 L97.7,738.5 L98.4,749.7 L99.1,807.0 L99.8,819.8 L100.5,723.5 L101.2,713.6 L101.9,664.9 L102.6,715.7 L103.3,719.9 L104.0,746.7 L104.7,789.8 L105.5,759.2 L106.2,743.3 L106.9,748.1 L107.6,765.3 L108.3,736.7 L109.0,791.1 L109.7,808.7 L110.4,877.7 L111.1,793.8 L111.8,777.0 L112.5,783.4 L113.2,826.4 L113.9,748.4 L114.6,781.4 L115.3,767.4 L116.0,734.9 L116.7,835.9 L117.4,815.9 L118.1,757.1 L118.8,751.4 L119.5,822.7 L120.2,823.5 L121.0,785.8 L121.7,790.6 L122.4,777.0 L123.1,809.2 L123.8,828.1 L124.5,907.3 L125.2,830.1 L125.9,800.8 L126.6,751.4 L127.3,768.9 L128.0,744.7 L128.7,745.5 L129.4,739.7 L130.1,725.3 L130.8,753.0 L131.5,820.4 L132.2,849.9 L132.9,813.9 L133.6,772.6 L134.3,854.7 L135.0,961.6 L135.7,879.1 L136.5,762.6 L137.2,720.3 L137.9,771.2 L138.6,786.4 L139.3,757.9 L140.0,803.7 L140.7,813.3 L141.4,878.4 L142.1,815.0 L142.8,788.3 L143.5,731.6 L144.2,766.1 L144.9,731.9 L145.6,788.8 L146.3,802.5 L147.0,802.3 L147.7,761.3 L148.4,765.3 L149.1,767.4 L149.8,783.0 L150.5,737.8 L151.3,698.6 L152.0,712.9 L152.7,697.9 L153.4,735.8 L154.1,757.2 L154.8,780.6 L155.5,825.7 L156.2,778.6 L156.9,779.7 L157.6,729.4 L158.3,750.0 L159.0,722.6 L159.7,717.4 L160.4,756.5 L161.1,721.3 L161.8,743.6 L162.5,794.2 L163.2,811.3 L163.9,794.3 L164.6,734.0 L165.3,711.4 L166.0,747.4 L166.8,800.8 L167.5,769.5 L168.2,747.7 L168.9,768.4 L169.6,838.7 L170.3,890.1 L171.0,859.3 L171.7,790.4 L172.4,778.8 L173.1,732.3 L173.8,756.4 L174.5,716.8 L175.2,725.9 L175.9,673.4 L176.6,744.3 L177.3,785.2 L178.0,838.6 L178.7,782.0 L179.4,768.2 L180.1,775.2 L180.8,812.3 L181.5,820.5 L182.3,863.8 L183.0,826.8 L183.7,852.8 L184.4,876.2 L185.1,817.4 L185.8,777.0 L186.5,815.9 L187.2,841.1 L187.9,813.4 L188.6,747.0 L189.3,730.8 L190.0,711.8 L190.7,744.5 L191.4,706.1 L192.1,681.8 L192.8,699.9 L193.5,741.0 L194.2,718.7 L194.9,722.1 L195.6,748.8 L196.3,783.9 L197.0,763.8 L197.8,777.1 L198.5,728.0 L199.2,736.5 L199.9,688.1 L200.6,671.9 L201.3,739.7 L202.0,864.9 L202.7,960.8 L203.4,882.4 L204.1,787.3 L204.8,768.9 L205.5,775.6 L206.2,772.2 L206.9,722.8 L207.6,760.2 L208.3,771.0 L209.0,821.1 L209.7,830.8 L210.4,877.7 L211.1,790.1 L211.8,732.3 L212.5,730.9 L213.3,753.8 L214.0,719.1 L214.7,778.9 L215.4,816.9 L216.1,803.8 L216.8,740.0 L217.5,721.4 L218.2,657.9 L218.9,708.9 L219.6,723.2 L220.3,789.7 L221.0,800.4 L221.7,831.5 L222.4,796.0 L223.1,791.0 L223.8,756.5 L224.5,779.4 L225.2,747.9 L225.9,744.0 L226.6,773.9 L227.3,861.2 L228.1,921.6 L228.8,903.1 L229.5,854.8 L230.2,849.1 L230.9,804.0 L231.6,805.6 L232.3,762.4 L233.0,766.2 L233.7,743.3 L234.4,807.6 L235.1,853.2 L235.8,809.9 L236.5,734.7 L237.2,694.2 L237.9,707.3 L238.6,751.2 L239.3,741.9 L240.0,748.4 L240.7,754.6 L241.4,783.0 L242.1,741.5 L242.8,687.6 L243.6,751.4 L244.3,860.8 L245.0,943.2 L245.7,875.3 L246.4,786.6 L247.1,752.8 L247.8,762.1 L248.5,809.6 L249.2,815.0 L249.9,866.0 L250.6,812.5 L251.3,794.0 L252.0,721.9 L252.7,686.2 L253.4,744.2 L254.1,796.4 L254.8,768.8 L255.5,779.9 L256.2,727.1 L256.9,711.8 L257.6,720.6 L258.3,694.9 L259.1,710.6 L259.8,757.0 L260.5,763.7 L261.2,816.7 L261.9,813.0 L262.6,866.1 L263.3,884.3 L264.0,767.5 L264.7,767.3 L265.4,783.0 L266.1,761.8 L266.8,770.4 L267.5,783.1 L268.2,863.2 L268.9,903.1 L269.6,993.2 L270.3,869.3 L271.0,782.8 L271.7,696.4 L272.4,757.0 L273.1,770.8 L273.8,808.1 L274.6,756.8 L275.3,713.0 L276.0,742.5 L276.7,817.8 L277.4,854.6 L278.1,927.4 L278.8,861.8 L279.5,841.3 L280.2,785.2 L280.9,773.0 L281.6,728.6 L282.3,788.8 L283.0,806.6 L283.7,809.9 L284.4,766.2 L285.1,766.7 L285.8,784.0 L286.5,882.2 L287.2,946.4 L287.9,866.5 L288.6,765.1 L289.3,725.7 L290.1,746.7 L290.8,783.0 L291.5,766.2 L292.2,789.5 L292.9,773.3 L293.6,801.2 L294.3,815.1 L295.0,879.3 L295.7,924.4 L296.4,872.1 L297.1,796.1 L297.8,770.5 L298.5,724.7 L299.2,783.5 L299.9,813.3 L300.6,874.8 L301.3,793.1 L302.0,777.0 L302.7,769.8 L303.4,796.4 L304.1,735.2 L304.8,680.7 L305.6,706.3 L306.3,765.8 L307.0,752.8 L307.7,769.4 L308.4,739.9 L309.1,724.2 L309.8,738.0 L310.5,795.5 L311.2,813.3 L311.9,857.9 L312.6,820.1 L313.3,833.8 L314.0,807.0 L314.7,827.1 L315.4,791.8 L316.1,808.2 L316.8,772.9 L317.5,777.0 L318.2,786.5 L318.9,849.4 L319.6,870.8 L320.4,959.4 L321.1,1014.2 L321.8,963.3 L322.5,887.4 L323.2,857.6 L323.9,784.7 L324.6,773.6 L325.3,742.6 L326.0,769.2 L326.7,741.0 L327.4,774.3 L328.1,752.1 L328.8,812.2 L329.5,856.4 L330.2,817.3 L330.9,752.5 L331.6,728.6 L332.3,726.5 L333.0,766.8 L333.7,768.8 L334.4,806.7 L335.1,804.1 L335.9,847.4 L336.6,854.7 L337.3,838.5 L338.0,787.3 L338.7,791.0 L339.4,774.8 L340.1,783.9 L340.8,772.7 L341.5,791.8 L342.2,781.5 L342.9,811.1 L343.6,797.8 L344.3,796.9 L345.0,748.7 L345.7,727.9 L346.4,724.2 L347.1,740.6 L347.8,702.8 L348.5,682.5 L349.2,714.6 L349.9,781.7 L350.6,794.0 L351.4,840.0 L352.1,795.4 L352.8,772.1 L353.5,707.3 L354.2,670.5 L354.9,724.1 L355.6,801.4 L356.3,832.3 L357.0,815.3 L357.7,757.1 L358.4,739.6 L359.1,754.5 L359.8,796.4 L360.5,805.9 L361.2,845.0 L361.9,783.3 L362.6,754.8 L363.3,680.3 L364.0,760.6 L364.7,788.3 L365.4,797.4 L366.1,757.6 L366.9,770.5 L367.6,745.5 L368.3,780.3 L369.0,783.0 L369.7,762.4 L370.4,686.6 L371.1,752.7 L371.8,773.3 L372.5,819.5 L373.2,795.0 L373.9,811.0 L374.6,779.6 L375.3,791.2 L376.0,754.0 L376.7,766.4 L377.4,751.4 L378.1,796.7 L378.8,762.1 L379.5,747.8 L380.2,691.3 L380.9,737.9 L381.6,689.8 L382.4,751.6 L383.1,772.5 L383.8,850.4 L384.5,879.9 L385.2,875.9 L385.9,845.8 L386.6,874.2 L387.3,874.0 L388.0,914.3 L388.7,833.6 L389.4,815.8 L390.1,777.0 L390.8,799.3 L391.5,775.3 L392.2,802.2 L392.9,769.6 L393.6,769.7 L394.3,765.6 L395.0,811.5 L395.7,813.3 L396.4,846.2 L397.2,792.4 L397.9,770.8 L398.6,728.6 L399.3,759.3 L400.0,759.1 L400.7,803.4 L401.4,815.4 L402.1,782.0 L402.8,728.6 L403.5,787.3 L404.2,835.4 L404.9,935.3 L405.6,886.3 L406.3,863.4 L407.0,806.8 L407.7,801.7 L408.4,754.2 L409.1,755.8 L409.8,741.6 L410.5,762.0 L411.2,709.1 L411.9,700.1 L412.7,733.6 L413.4,808.2 L414.1,829.8 L414.8,817.7 L415.5,779.9 L416.2,795.9 L416.9,777.0 L417.6,799.2 L418.3,790.3 L419.0,830.7 L419.7,836.7 L420.4,815.5 L421.1,747.4 L421.8,712.1 L422.5,742.9 L423.2,807.1 L423.9,829.3 L424.6,825.3 L425.3,780.6 L426.0,781.2 L426.7,760.1 L427.4,787.0 L428.2,791.0 L428.9,853.0 L429.6,874.8 L430.3,716.2 L431.0,754.5 L431.7,680.3 L432.4,745.3 L433.1,807.8 L433.8,783.7 L434.5,784.7 L435.2,737.8 L435.9,730.0 L436.6,678.9 L437.3,662.7 L438.0,612.6 L438.7,716.5 L439.4,758.1 L440.1,814.7 L440.8,784.1 L441.5,792.0 L442.2,754.8 L442.9,757.2 L443.7,762.7 L444.4,820.8 L445.1,838.1 L445.8,801.2 L446.5,712.2 L447.2,654.2 L447.9,708.6 L448.6,800.7 L449.3,828.3 L450.0,769.7 L450.7,767.2 L451.4,787.1 L452.1,783.0 L452.8,785.1 L453.5,727.4 L454.2,711.5 L454.9,752.7 L455.6,843.4 L456.3,901.9 L457.0,880.1 L457.7,825.1 L458.4,816.9 L459.2,779.6 L459.9,778.5 L460.6,775.2 L461.3,818.1 L462.0,825.6 L462.7,866.7 L463.4,801.6 L464.1,785.2 L464.8,727.2 L465.5,849.1 L466.2,657.9 L466.9,720.2 L467.6,747.7 L468.3,821.5 L469.0,849.1 L469.7,801.9 L470.4,685.2 L471.1,601.3 L471.8,697.3 L472.5,818.8 L473.2,896.3 L473.9,846.7 L474.7,786.5 L475.4,777.0 L476.1,783.0 L476.8,824.9 L477.5,792.1 L478.2,788.7 L478.9,761.6 L479.6,808.8 L480.3,779.7 L481.0,784.5 L481.7,749.2 L482.4,777.7 L483.1,774.5 L483.8,814.7 L484.5,766.0 L485.2,739.3 L485.9,755.6 L486.6,816.2 L487.3,840.0 L488.0,809.9 L488.7,709.8 L489.5,658.2 L490.2,556.2 L490.9,651.1 L491.6,692.2 L492.3,774.2 L493.0,783.0 L493.7,782.9 L494.4,735.9 L495.1,723.5 L495.8,765.7 L496.5,847.4 L497.2,763.8 L497.9,680.5 L498.6,550.3 L499.3,646.6 L500.0,696.9 L500.7,783.9 L501.4,803.0 L502.1,751.4 L502.8,751.4 L503.5,804.4 L504.2,804.4 L505.0,791.2 L505.7,743.4 L506.4,718.1 L507.1,751.3 L507.8,783.0 L508.5,769.1 L509.2,783.0 L509.9,756.5 L510.6,781.0 L511.3,762.0 L512.0,791.4 L512.7,759.3 L513.4,761.6 L514.1,758.2 L514.8,783.0 L515.5,724.7 L516.2,639.6 L516.9,675.8 L517.6,735.9 L518.3,733.0 L519.0,741.1 L519.7,760.2 L520.5,781.0 L521.2,736.7 L521.9,706.7 L522.6,621.0 L523.3,675.2 L524.0,684.5 L524.7,734.7 L525.4,725.2 L526.1,727.9 L526.8,830.1 L527.5,830.6 L528.2,820.3 L528.9,862.6 L529.6,784.8 L530.3,723.3 L531.0,627.5 L531.7,691.3 L532.4,668.3 L533.1,650.7 L533.8,689.2 L534.5,667.1 L535.2,701.2 L536.0,747.0 L536.7,739.6 L537.4,814.0 L538.1,782.8 L538.8,774.5 L539.5,713.7 L540.2,694.0 L540.9,629.2 L541.6,730.8 L542.3,784.3 L543.0,852.1 L543.7,799.5 L544.4,801.6 L545.1,777.0 L545.8,814.1 L546.5,825.5 L547.2,907.8 L547.9,967.5 L548.6,939.4 L549.3,870.7 L550.0,863.8 L550.7,805.0 L551.5,800.7 L552.2,743.7 L552.9,745.8 L553.6,741.8 L554.3,768.8 L555.0,745.5 L555.7,819.6 L556.4,911.8 L557.1,845.2 L557.8,744.0 L558.5,687.6 L559.2,763.2 L559.9,866.7 L560.6,808.7 L561.3,801.5 L562.0,767.5 L562.7,790.4 L563.4,789.8 L564.1,829.8 L564.8,794.8 L565.5,796.3 L566.2,752.2 L567.0,754.3 L567.7,754.6 L568.4,789.8 L569.1,792.7 L569.8,767.5 L570.5,756.4 L571.2,787.3 L571.9,783.0 L572.6,769.2 L573.3,697.1 L574.0,649.1 L574.7,680.5 L575.4,739.3 L576.1,731.8 L576.8,748.4 L577.5,761.1 L578.2,789.8 L578.9,764.8 L579.6,758.5 L580.3,719.9 L581.0,735.0 L581.8,692.4 L582.5,660.8 L583.2,692.1 L583.9,761.7 L584.6,767.5 L585.3,804.9 L586.0,777.9 L586.7,775.7 L587.4,729.9 L588.1,713.6 L588.8,729.2 L589.5,788.9 L590.2,806.7 L590.9,853.2 L591.6,831.2 L592.3,843.8 L593.0,806.4 L593.7,816.5 L594.4,785.6 L595.1,801.0 L595.8,765.4 L596.5,785.7 L597.3,771.6 L598.0,810.5 L598.7,830.8 L599.4,798.2 L600.1,731.1 L600.8,687.8 L601.5,714.4 L602.2,695.7 L602.9,728.7 L603.6,796.4 L604.3,810.3 L605.0,866.4 L605.7,829.0 L606.4,817.3 L607.1,770.9 L607.8,773.6 L608.5,739.6 L609.2,783.8 L609.9,783.0 L610.6,785.0 L611.3,745.8 L612.0,783.8 L612.8,791.2 L613.5,827.9 L614.2,784.0 L614.9,777.7 L615.6,796.0 L616.3,856.4 L617.0,796.6 L617.7,773.5 L618.4,717.4 L619.1,760.2 L619.8,773.0 L620.5,804.9 L621.2,765.7 L621.9,792.0 L622.6,783.0 L623.3,767.6 L624.0,719.9 L624.7,783.3 L625.4,809.5 L626.1,889.0 L626.8,836.2 L627.5,832.0 L628.3,779.0 L629.0,780.5 L629.7,749.9 L630.4,815.4 L631.1,782.8 L631.8,798.8 L632.5,769.7 L633.2,799.8 L633.9,800.9 L634.6,842.1 L635.3,776.8 L636.0,758.7 L636.7,759.6 L637.4,801.9 L638.1,792.2 L638.8,826.8 L639.5,781.7 L640.2,753.3 L640.9,683.7 L641.6,763.4 L642.3,783.0 L643.0,760.0 L643.8,679.6 L644.5,747.8 L645.2,774.4 L645.9,824.9 L646.6,781.5 L647.3,765.3 L648.0,760.2 L648.7,785.6 L649.4,783.0 L650.1,769.2 L650.8,707.1 L651.5,770.3 L652.2,799.3 L652.9,863.0 L653.6,812.3 L654.3,804.0 L655.0,731.2 L655.7,715.5 L656.4,729.4 L657.1,757.3 L657.8,727.6 L658.6,750.0 L659.3,723.6 L660.0,722.8 L660.7,681.8 L661.4,745.9 L662.1,781.0 L662.8,827.9 L663.5,789.4 L664.2,797.1 L664.9,763.4 L665.6,805.3 L666.3,835.7 L667.0,942.0 L667.7,1016.3 L668.4,952.9 L669.1,867.0 L669.8,846.7 L670.5,778.4 L671.2,777.0 L671.9,773.6 L672.6,826.2 L673.3,831.0 L674.1,894.2 L674.8,903.3 L675.5,968.8 L676.2,791.0 L676.9,675.2 L677.6,705.2 L678.3,769.4 L679.0,772.9 L679.7,805.9 L680.4,780.0 L681.1,765.8 L681.8,717.1 L682.5,692.6 L683.2,640.0 L683.9,688.0 L684.6,708.2 L685.3,774.5 L686.0,784.3 L686.7,842.1 L687.4,858.6 L688.1,847.2 L688.8,820.2 L689.6,849.9 L690.3,799.8 L691.0,792.5 L691.7,751.4 L692.4,797.2 L693.1,830.8 L693.8,902.6 L694.5,787.9 L695.2,733.5 L695.9,736.0 L696.6,776.3 L697.3,766.2 L698.0,783.0 L698.7,751.8 L699.4,741.5 L700.1,670.2 L700.8,619.6 L701.5,655.4 L702.2,709.0 L702.9,719.3 L703.6,772.8 L704.3,777.0 L705.1,804.0 L705.8,778.1 L706.5,766.9 L707.2,713.9 L707.9,691.0 L708.6,624.3 L709.3,580.7 L710.0,618.7 L710.7,674.0 L711.4,695.8 L712.1,749.4 L712.8,758.6 L713.5,794.0 L714.2,801.1 L714.9,799.8 L715.6,758.2 L716.3,761.4 L717.0,714.3 L717.7,693.5 L718.4,718.5 L719.1,775.0 L719.8,788.2 L720.6,818.1 L721.3,781.7 L722.0,788.0 L722.7,751.4 L723.4,739.6 L724.1,755.7 L724.8,783.0 L725.5,766.0 L726.2,771.6 L726.9,736.7 L727.6,770.8 L728.3,774.2 L729.0,797.8 L729.7,774.3 L730.4,773.2 L731.1,732.3 L731.8,767.1 L732.5,763.8 L733.2,794.9 L733.9,744.8 L734.6,694.2 L735.4,700.6 L736.1,738.0 L736.8,716.6 L737.5,708.9 L738.2,720.5 L738.9,756.9 L739.6,728.3 L740.3,732.3 L741.0,746.9 L741.7,785.7 L742.4,792.7 L743.1,792.2 L743.8,737.2 L744.5,728.4 L745.2,751.1 L745.9,812.0 L746.6,846.5 L747.3,833.4 L748.0,794.2 L748.7,780.3 L749.4,733.1 L750.1,711.7 L750.9,654.0 L751.6,647.2 L752.3,591.4 L753.0,697.6 L753.7,752.4 L754.4,823.9 L755.1,794.6 L755.8,802.8 L756.5,748.8 L757.2,763.0 L757.9,725.7 L758.6,758.0 L759.3,769.5 L760.0,820.6 L760.7,832.3 L761.4,831.0 L762.1,828.6 L762.8,802.0 L763.5,776.3 L764.2,789.3 L764.9,767.5 L765.6,789.0 L766.4,759.4 L767.1,765.5 L767.8,736.8 L768.5,741.1 L769.2,693.7 L769.9,679.6 L770.6,702.3 L771.3,747.6 L772.0,735.2 L772.7,763.7 L773.4,740.2 L774.1,772.5 L774.8,749.9 L775.5,816.9 L776.2,790.1 L776.9,808.9 L777.6,772.0 L778.3,777.7 L779.0,773.4 L779.7,806.4 L780.4,798.9 L781.1,835.2 L781.9,808.1 L782.6,823.7 L783.3,808.5 L784.0,828.6 L784.7,828.6 L784.7,780.0 L75.9,780.0 Z" fill="#0000ff" stroke="#0000ff" stroke-width="2.0" stroke-linejoin="round" opacity="0.6"/></g>
<path d="M75.9,933.8 L76.6,884.7 L77.3,813.8 L78.0,799.5 L78.7,767.5 L79.4,794.9 L80.1,773.7 L80.8,794.8 L81.5,777.0 L82.2,797.5 L82.9,810.5 L83.6,868.3 L84.3,894.5 L85.0,859.8 L85.7,803.4 L86.4,800.6 L87.1,763.8 L87.8,792.2 L88.5,787.4 L89.2,830.8 L90.0,790.0 L90.7,788.9 L91.4,753.6 L92.1,800.2 L92.8,840.4 L93.5,930.9 L94.2,873.6 L94.9,864.2 L95.6,800.9 L96.3,798.7 L97.0,750.6 L97.7,738.5 L98.4,749.7 L99.1,807.0 L99.8,819.8 L100.5,723.5 L101.2,713.6 L101.9,664.9 L102.6,715.7 L103.3,719.9 L104.0,746.7 L104.7,789.8 L105.5,759.2 L106.2,743.3 L106.9,748.1 L107.6,765.3 L108.3,736.7 L109.0,791.1 L109.7,808.7 L110.4,877.7 L111.1,793.8 L111.8,777.0 L112.5,783.4 L113.2,826.4 L113.9,748.4 L114.6,781.4 L115.3,767.4 L116.0,734.9 L116.7,835.9 L117.4,815.9 L118.1,757.1 L118.8,751.4 L119.5,822.7 L120.2,823.5 L121.0,785.8 L121.7,790.6 L122.4,777.0 L123.1,809.2 L123.8,828.1 L124.5,907.3 L125.2,830.1 L125.9,800.8 L126.6,751.4 L127.3,768.9 L128.0,744.7 L128.7,745.5 L129.4,739.7 L130.1,725.3 L130.8,753.0 L131.5,820.4 L132.2,849.9 L132.9,813.9 L133.6,772.6 L134.3,854.7 L135.0,961.6 L135.7,879.1 L136.5,762.6 L137.2,720.3 L137.9,771.2 L138.6,786.4 L139.3,757.9 L140.0,803.7 L140.7,813.3 L141.4,878.4 L142.1,815.0 L142.8,788.3 L143.5,731.6 L144.2,766.1 L144.9,731.9 L145.6,788.8 L146.3,802.5 L147.0,802.3 L147.7,761.3 L148.4,765.3 L149.1,767.4 L149.8,783.0 L150.5,737.8 L151.3,698.6 L152.0,712.9 L152.7,697.9 L153.4,735.8 L154.1,757.2 L154.8,780.6 L155.5,825.7 L156.2,778.6 L156.9,779.7 L157.6,729.4 L158.3,750.0 L159.0,722.6 L159.7,717.4 L160.4,756.5 L161.1,721.3 L161.8,743.6 L162.5,794.2 L163.2,811.3 L163.9,794.3 L164.6,734.0 L165.3,711.4 L166.0,747.4 L166.8,800.8 L167.5,769.5 L168.2,747.7 L168.9,768.4 L169.6,838.7 L170.3,890.1 L171.0,859.3 L171.7,790.4 L172.4,778.8 L173.1,732.3 L173.8,756.4 L174.5,716.8 L175.2,725.9 L175.9,673.4 L176.6,744.3 L177.3,785.2 L178.0,838.6 L178.7,782.0 L179.4,768.2 L180.1,775.2 L180.8,812.3 L181.5,820.5 L182.3,863.8 L183.0,826.8 L183.7,852.8 L184.4,876.2 L185.1,817.4 L185.8,777.0 L186.5,815.9 L187.2,841.1 L187.9,813.4 L188.6,747.0 L189.3,730.8 L190.0,711.8 L190.7,744.5 L191.4,706.1 L192.1,681.8 L192.8,699.9 L193.5,741.0 L194.2,718.7 L194.9,722.1 L195.6,748.8 L196.3,783.9 L197.0,763.8 L197.8,777.1 L198.5,728.0 L199.2,736.5 L199.9,688.1 L200.6,671.9 L201.3,739.7 L202.0,864.9 L202.7,960.8 L203.4,882.4 L204.1,787.3 L204.8,768.9 L205.5,775.6 L206.2,772.2 L206.9,722.8 L207.6,760.2 L208.3,771.0 L209.0,821.1 L209.7,830.8 L210.4,877.7 L211.1,790.1 L211.8,732.3 L212.5,730.9 L213.3,753.8 L214.0,719.1 L214.7,778.9 L215.4,816.9 L216.1,803.8 L216.8,740.0 L217.5,721.4 L218.2,657.9 L218.9,708.9 L219.6,723.2 L220.3,789.7 L221.0,800.4 L221.7,831.5 L222.4,796.0 L223.1,791.0 L223.8,756.5 L224.5,779.4 L225.2,747.9 L225.9,744.0 L226.6,773.9 L227.3,861.2 L228.1,921.6 L228.8,903.1 L229.5,854.8 L230.2,849.1 L230.9,804.0 L231.6,805.6 L232.3,762.4 L233.0,766.2 L233.7,743.3 L234.4,807.6 L235.1,853.2 L235.8,809.9 L236.5,734.7 L237.2,694.2 L237.9,707.3 L238.6,751.2 L239.3,741.9 L240.0,748.4 L240.7,754.6 L241.4,783.0 L242.1,741.5 L242.8,687.6 L243.6,751.4 L244.3,860.8 L245.0,943.2 L245.7,875.3 L246.4,786.6 L247.1,752.8 L247.8,762.1 L248.5,809.6 L249.2,815.0 L249.9,866.0 L250.6,812.5 L251.3,794.0 L252.0,721.9 L252.7,686.2 L253.4,744.2 L254.1,796.4 L254.8,768.8 L255.5,779.9 L256.2,727.1 L256.9,711.8 L257.6,720.6 L258.3,694.9 L259.1,710.6 L259.8,757.0 L260.5,763.7 L261.2,816.7 L261.9,813.0 L262.6,866.1 L263.3,884.3 L264.0,767.5 L264.7,767.3 L265.4,783.0 L266.1,761.8 L266.8,770.4 L267.5,783.1 L268.2,863.2 L268.9,903.1 L269.6,993.2 L270.3,869.3 L271.0,782.8 L271.7,696.4 L272.4,757.0 L273.1,770.8 L273.8,808.1 L274.6,756.8 L275.3,713.0 L276.0,742.5 L276.7,817.8 L277.4,854.6 L278.1,927.4 L278.8,861.8 L279.5,841.3 L280.2,785.2 L280.9,773.0 L281.6,728.6 L282.3,788.8 L283.0,806.6 L283.7,809.9 L284.4,766.2 L285.1,766.7 L285.8,784.0 L286.5,882.2 L287.2,946.4 L287.9,866.5 L288.6,765.1 L289.3,725.7 L290.1,746.7 L290.8,783.0 L291.5,766.2 L292.2,789.5 L292.9,773.3 L293.6,801.2 L294.3,815.1 L295.0,879.3 L295.7,924.4 L296.4,872.1 L297.1,796.1 L297.8,770.5 L298.5,724.7 L299.2,783.5 L299.9,813.3 L300.6,874.8 L301.3,793.1 L302.0,777.0 L302.7,769.8 L303.4,796.4 L304.1,735.2 L304.8,680.7 L305.6,706.3 L306.3,765.8 L307.0,752.8 L307.7,769.4 L308.4,739.9 L309.1,724.2 L309.8,738.0 L310.5,795.5 L311.2,813.3 L311.9,857.9 L312.6,820.1 L313.3,833.8 L314.0,807.0 L314.7,827.1 L315.4,791.8 L316.1,808.2 L316.8,772.9 L317.5,777.0 L318.2,786.5 L318.9,849.4 L319.6,870.8 L320.4,959.4 L321.1,1014.2 L321.8,963.3 L322.5,887.4 L323.2,857.6 L323.9,784.7 L324.6,773.6 L325.3,742.6 L326.0,769.2 L326.7,741.0 L327.4,774.3 L328.1,752.1 L328.8,812.2 L329.5,856.4 L330.2,817.3 L330.9,752.5 L331.6,728.6 L332.3,726.5 L333.0,766.8 L333.7,768.8 L334.4,806.7 L335.1,804.1 L335.9,847.4 L336.6,854.7 L337.3,838.5 L338.0,787.3 L338.7,791.0 L339.4,774.8 L340.1,783.9 L340.8,772.7 L341.5,791.8 L342.2,781.5 L342.9,811.1 L343.6,797.8 L344.3,796.9 L345.0,748.7 L345.7,727.9 L346.4,724.2 L347.1,740.6 L347.8,702.8 L348.5,682.5 L349.2,714.6 L349.9,781.7 L350.6,794.0 L351.4,840.0 L352.1,795.4 L352.8,772.1 L353.5,707.3 L354.2,670.5 L354.9,724.1 L355.6,801.4 L356.3,832.3 L357.0,815.3 L357.7,757.1 L358.4,739.6 L359.1,754.5 L359.8,796.4 L360.5,805.9 L361.2,845.0 L361.9,783.3 L362.6,754.8 L363.3,680.3 L364.0,760.6 L364.7,788.3 L365.4,797.4 L366.1,757.6 L366.9,770.5 L367.6,745.5 L368.3,780.3 L369.0,783.0 L369.7,762.4 L370.4,686.6 L371.1,752.7 L371.8,773.3 L372.5,819.5 L373.2,795.0 L373.9,811.0 L374.6,779.6 L375.3,791.2 L376.0,754.0 L376.7,766.4 L377.4,751.4 L378.1,796.7 L378.8,762.1 L379.5,747.8 L380.2,691.3 L380.9,737.9 L381.6,689.8 L382.4,751.6 L383.1,772.5 L383.8,850.4 L384.5,879.9 L385.2,875.9 L385.9,845.8 L386.6,874.2 L387.3,874.0 L388.0,914.3 L388.7,833.6 L389.4,815.8 L390.1,777.0 L390.8,799.3 L391.5,775.3 L392.2,802.2 L392.9,769.6 L393.6,769.7 L394.3,765.6 L395.0,811.5 L395.7,813.3 L396.4,846.2 L397.2,792.4 L397.9,770.8 L398.6,728.6 L399.3,759.3 L400.0,759.1 L400.7,803.4 L401.4,815.4 L402.1,782.0 L402.8,728.6 L403.5,787.3 L404.2,835.4 L404.9,935.3 L405.6,886.3 L406.3,863.4 L407.0,806.8 L407.7,801.7 L408.4,754.2 L409.1,755.8 L409.8,741.6 L410.5,762.0 L411.2,709.1 L411.9,700.1 L412.7,733.6 L413.4,808.2 L414.1,829.8 L414.8,817.7 L415.5,779.9 L416.2,795.9 L416.9,777.0 L417.6,799.2 L418.3,790.3 L419.0,830.7 L419.7,836.7 L420.4,815.5 L421.1,747.4 L421.8,712.1 L422.5,742.9 L423.2,807.1 L423.9,829.3 L424.6,825.3 L425.3,780.6 L426.0,781.2 L426.7,760.1 L427.4,787.0 L428.2,791.0 L428.9,853.0 L429.6,874.8 L430.3,716.2 L431.0,754.5 L431.7,680.3 L432.4,745.3 L433.1,807.8 L433.8,783.7 L434.5,784.7 L435.2,737.8 L435.9,730.0 L436.6,678.9 L437.3,662.7 L438.0,612.6 L438.7,716.5 L439.4,758.1 L440.1,814.7 L440.8,784.1 L441.5,792.0 L442.2,754.8 L442.9,757.2 L443.7,762.7 L444.4,820.8 L445.1,838.1 L445.8,801.2 L446.5,712.2 L447.2,654.2 L447.9,708.6 L448.6,800.7 L449.3,828.3 L450.0,769.7 L450.7,767.2 L451.4,787.1 L452.1,783.0 L452.8,785.1 L453.5,727.4 L454.2,711.5 L454.9,752.7 L455.6,843.4 L456.3,901.9 L457.0,880.1 L457.7,825.1 L458.4,816.9 L459.2,779.6 L459.9,778.5 L460.6,775.2 L461.3,818.1 L462.0,825.6 L462.7,866.7 L463.4,801.6 L464.1,785.2 L464.8,727.2 L465.5,849.1 L466.2,657.9 L466.9,720.2 L467.6,747.7 L468.3,821.5 L469.0,849.1 L469.7,801.9 L470.4,685.2 L471.1,601.3 L471.8,697.3 L472.5,818.8 L473.2,896.3 L473.9,846.7 L474.7,786.5 L475.4,777.0 L476.1,783.0 L476.8,824.9 L477.5,792.1 L478.2,788.7 L478.9,761.6 L479.6,808.8 L480.3,779.7 L481.0,784.5 L481.7,749.2 L482.4,777.7 L483.1,774.5 L483.8,814.7 L484.5,766.0 L485.2,739.3 L485.9,755.6 L486.6,816.2 L487.3,840.0 L488.0,809.9 L488.7,709.8 L489.5,658.2 L490.2,556.2 L490.9,651.1 L491.6,692.2 L492.3,774.2 L493.0,783.0 L493.7,782.9 L494.4,735.9 L495.1,723.5 L495.8,765.7 L496.5,847.4 L497.2,763.8 L497.9,680.5 L498.6,550.3 L499.3,646.6 L500.0,696.9 L500.7,783.9 L501.4,803.0 L502.1,751.4 L502.8,751.4 L503.5,804.4 L504.2,804.4 L505.0,791.2 L505.7,743.4 L506.4,718.1 L507.1,751.3 L507.8,783.0 L508.5,769.1 L509.2,783.0 L509.9,756.5 L510.6,781.0 L511.3,762.0 L512.0,791.4 L512.7,759.3 L513.4,761.6 L514.1,758.2 L514.8,783.0 L515.5,724.7 L516.2,639.6 L516.9,675.8 L517.6,735.9 L518.3,733.0 L519.0,741.1 L519.7,760.2 L520.5,781.0 L521.2,736.7 L521.9,706.7 L522.6,621.0 L523.3,675.2 L524.0,684.5 L524.7,734.7 L525.4,725.2 L526.1,727.9 L526.8,830.1 L527.5,830.6 L528.2,820.3 L528.9,862.6 L529.6,784.8 L530.3,723.3 L531.0,627.5 L531.7,691.3 L532.4,668.3 L533.1,650.7 L533.8,689.2 L534.5,667.1 L535.2,701.2 L536.0,747.0 L536.7,739.6 L537.4,814.0 L538.1,782.8 L538.8,774.5 L539.5,713.7 L540.2,694.0 L540.9,629.2 L541.6,730.8 L542.3,784.3 L543.0,852.1 L543.7,799.5 L544.4,801.6 L545.1,777.0 L545.8,814.1 L546.5,825.5 L547.2,907.8 L547.9,967.5 L548.6,939.4 L549.3,870.7 L550.0,863.8 L550.7,805.0 L551.5,800.7 L552.2,743.7 L552.9,745.8 L553.6,741.8 L554.3,768.8 L555.0,745.5 L555.7,819.6 L556.4,911.8 L557.1,845.2 L557.8,744.0 L558.5,687.6 L559.2,763.2 L559.9,866.7 L560.6,808.7 L561.3,801.5 L562.0,767.5 L562.7,790.4 L563.4,789.8 L564.1,829.8 L564.8,794.8 L565.5,796.3 L566.2,752.2 L567.0,754.3 L567.7,754.6 L568.4,789.8 L569.1,792.7 L569.8,767.5 L570.5,756.4 L571.2,787.3 L571.9,783.0 L572.6,769.2 L573.3,697.1 L574.0,649.1 L574.7,680.5 L575.4,739.3 L576.1,731.8 L576.8,748.4 L577.5,761.1 L578.2,789.8 L578.9,764.8 L579.6,758.5 L580.3,719.9 L581.0,735.0 L581.8,692.4 L582.5,660.8 L583.2,692.1 L583.9,761.7 L584.6,767.5 L585.3,804.9 L586.0,777.9 L586.7,775.7 L587.4,729.9 L588.1,713.6 L588.8,729.2 L589.5,788.9 L590.2,806.7 L590.9,853.2 L591.6,831.2 L592.3,843.8 L593.0,806.4 L593.7,816.5 L594.4,785.6 L595.1,801.0 L595.8,765.4 L596.5,785.7 L597.3,771.6 L598.0,810.5 L598.7,830.8 L599.4,798.2 L600.1,731.1 L600.8,687.8 L601.5,714.4 L602.2,695.7 L602.9,728.7 L603.6,796.4 L604.3,810.3 L605.0,866.4 L605.7,829.0 L606.4,817.3 L607.1,770.9 L607.8,773.6 L608.5,739.6 L609.2,783.8 L609.9,783.0 L610.6,785.0 L611.3,745.8 L612.0,783.8 L612.8,791.2 L613.5,827.9 L614.2,784.0 L614.9,777.7 L615.6,796.0 L616.3,856.4 L617.0,796.6 L617.7,773.5 L618.4,717.4 L619.1,760.2 L619.8,773.0 L620.5,804.9 L621.2,765.7 L621.9,792.0 L622.6,783.0 L623.3,767.6 L624.0,719.9 L624.7,783.3 L625.4,809.5 L626.1,889.0 L626.8,836.2 L627.5,832.0 L628.3,779.0 L629.0,780.5 L629.7,749.9 L630.4,815.4 L631.1,782.8 L631.8,798.8 L632.5,769.7 L633.2,799.8 L633.9,800.9 L634.6,842.1 L635.3,776.8 L636.0,758.7 L636.7,759.6 L637.4,801.9 L638.1,792.2 L638.8,826.8 L639.5,781.7 L640.2,753.3 L640.9,683.7 L641.6,763.4 L642.3,783.0 L643.0,760.0 L643.8,679.6 L644.5,747.8 L645.2,774.4 L645.9,824.9 L646.6,781.5 L647.3,765.3 L648.0,760.2 L648.7,785.6 L649.4,783.0 L650.1,769.2 L650.8,707.1 L651.5,770.3 L652.2,799.3 L652.9,863.0 L653.6,812.3 L654.3,804.0 L655.0,731.2 L655.7,715.5 L656.4,729.4 L657.1,757.3 L657.8,727.6 L658.6,750.0 L659.3,723.6 L660.0,722.8 L660.7,681.8 L661.4,745.9 L662.1,781.0 L662.8,827.9 L663.5,789.4 L664.2,797.1 L664.9,763.4 L665.6,805.3 L666.3,835.7 L667.0,942.0 L667.7,1016.3 L668.4,952.9 L669.1,867.0 L669.8,846.7 L670.5,778.4 L671.2,777.0 L671.9,773.6 L672.6,826.2 L673.3,831.0 L674.1,894.2 L674.8,903.3 L675.5,968.8 L676.2,791.0 L676.9,675.2 L677.6,705.2 L678.3,769.4 L679.0,772.9 L679.7,805.9 L680.4,780.0 L681.1,765.8 L681.8,717.1 L682.5,692.6 L683.2,640.0 L683.9,688.0 L684.6,708.2 L685.3,774.5 L686.0,784.3 L686.7,842.1 L687.4,858.6 L688.1,847.2 L688.8,820.2 L689.6,849.9 L690.3,799.8 L691.0,792.5 L691.7,751.4 L692.4,797.2 L693.1,830.8 L693.8,902.6 L694.5,787.9 L695.2,733.5 L695.9,736.0 L696.6,776.3 L697.3,766.2 L698.0,783.0 L698.7,751.8 L699.4,741.5 L700.1,670.2 L700.8,619.6 L701.5,655.4 L702.2,709.0 L702.9,719.3 L703.6,772.8 L704.3,777.0 L705.1,804.0 L705.8,778.1 L706.5,766.9 L707.2,713.9 L707.9,691.0 L708.6,624.3 L709.3,580.7 L710.0,618.7 L710.7,674.0 L711.4,695.8 L712.1,749.4 L712.8,758.6 L713.5,794.0 L714.2,801.1 L714.9,799.8 L715.6,758.2 L716.3,761.4 L717.0,714.3 L717.7,693.5 L718.4,718.5 L719.1,775.0 L719.8,788.2 L720.6,818.1 L721.3,781.7 L722.0,788.0 L722.7,751.4 L723.4,739.6 L724.1,755.7 L724.8,783.0 L725.5,766.0 L726.2,771.6 L726.9,736.7 L727.6,770.8 L728.3,774.2 L729.0,797.8 L729.7,774.3 L730.4,773.2 L731.1,732.3 L731.8,767.1 L732.5,763.8 L733.2,794.9 L733.9,744.8 L734.6,694.2 L735.4,700.6 L736.1,738.0 L736.8,716.6 L737.5,708.9 L738.2,720.5 L738.9,756.9 L739.6,728.3 L740.3,732.3 L741.0,746.9 L741.7,785.7 L742.4,792.7 L743.1,792.2 L743.8,737.2 L744.5,728.4 L745.2,751.1 L745.9,812.0 L746.6,846.5 L747.3,833.4 L748.0,794.2 L748.7,780.3 L749.4,733.1 L750.1,711.7 L750.9,654.0 L751.6,647.2 L752.3,591.4 L753.0,697.6 L753.7,752.4 L754.4,823.9 L755.1,794.6 L755.8,802.8 L756.5,748.8 L757.2,763.0 L757.9,725.7 L758.6,758.0 L759.3,769.5 L760.0,820.6 L760.7,832.3 L761.4,831.0 L762.1,828.6 L762.8,802.0 L763.5,776.3 L764.2,789.3 L764.9,767.5 L765.6,789.0 L766.4,759.4 L767.1,765.5 L767.8,736.8 L768.5,741.1 L769.2,693.7 L769.9,679.6 L770.6,702.3 L771.3,747.6 L772.0,735.2 L772.7,763.7 L773.4,740.2 L774.1,772.5 L774.8,749.9 L775.5,816.9 L776.2,790.1 L776.9,808.9 L777.6,772.0 L778.3,777.7 L779.0,773.4 L779.7,806.4 L780.4,798.9 L781.1,835.2 L781.9,808.1 L782.6,823.7 L783.3,808.5 L784.0,828.6 L784.7,828.6" fill="none" stroke="#000000" stroke-opacity="0.84" stroke-width="2.2" stroke-linejoin="round" stroke-linecap="butt"/>

<line x1="40" x2="821" y1="780.0" y2="780.0" stroke="#000000" stroke-opacity="0.68" stroke-width="1.85"/>
<line x1="40" x2="820" y1="1018.3" y2="1018.3" stroke="#cccccc" stroke-width="1.3"/>
<line x1="75.2" x2="75.2" y1="1019" y2="1023.3" stroke="#262626" stroke-width="1"/>
<text x="74.8" y="1038.8" text-anchor="middle" class="d" textLength="31.2" lengthAdjust="spacingAndGlyphs">1940</text>
<line x1="159.8" x2="159.8" y1="1019" y2="1023.3" stroke="#262626" stroke-width="1"/>
<text x="159.3" y="1038.8" text-anchor="middle" class="d" textLength="31.2" lengthAdjust="spacingAndGlyphs">1950</text>
<line x1="244.3" x2="244.3" y1="1019" y2="1023.3" stroke="#262626" stroke-width="1"/>
<text x="243.9" y="1038.8" text-anchor="middle" class="d" textLength="31.2" lengthAdjust="spacingAndGlyphs">1960</text>
<line x1="328.8" x2="328.8" y1="1019" y2="1023.3" stroke="#262626" stroke-width="1"/>
<text x="328.4" y="1038.8" text-anchor="middle" class="d" textLength="31.2" lengthAdjust="spacingAndGlyphs">1970</text>
<line x1="413.4" x2="413.4" y1="1019" y2="1023.3" stroke="#262626" stroke-width="1"/>
<text x="413.0" y="1038.8" text-anchor="middle" class="d" textLength="31.2" lengthAdjust="spacingAndGlyphs">1980</text>
<line x1="497.9" x2="497.9" y1="1019" y2="1023.3" stroke="#262626" stroke-width="1"/>
<text x="497.6" y="1038.8" text-anchor="middle" class="d" textLength="31.2" lengthAdjust="spacingAndGlyphs">1990</text>
<line x1="582.5" x2="582.5" y1="1019" y2="1023.3" stroke="#262626" stroke-width="1"/>
<text x="582.1" y="1038.8" text-anchor="middle" class="d" textLength="31.2" lengthAdjust="spacingAndGlyphs">2000</text>
<line x1="667.1" x2="667.1" y1="1019" y2="1023.3" stroke="#262626" stroke-width="1"/>
<text x="666.7" y="1038.8" text-anchor="middle" class="d" textLength="31.2" lengthAdjust="spacingAndGlyphs">2010</text>
<line x1="751.6" x2="751.6" y1="1019" y2="1023.3" stroke="#262626" stroke-width="1"/>
<text x="751.2" y="1038.8" text-anchor="middle" class="d" textLength="31.2" lengthAdjust="spacingAndGlyphs">2020</text>
<text x="35.3" y="601.6" text-anchor="end" class="d">3</text>
<text x="35.3" y="662.9" text-anchor="end" class="d">2</text>
<text x="35.3" y="724.1" text-anchor="end" class="d">1</text>
<text x="35.3" y="785.4" text-anchor="end" class="d">0</text>
<text x="35.3" y="846.7" text-anchor="end" class="d">−1</text>
<text x="35.3" y="907.9" text-anchor="end" class="d">−2</text>
<text x="35.3" y="969.2" text-anchor="end" class="d">−3</text>
<text x="430" y="1056" text-anchor="middle" class="t" textLength="27.8" lengthAdjust="spacingAndGlyphs">time</text>
<text transform="translate(11.8,784) rotate(-90)" text-anchor="middle" class="t" textLength="66.5" lengthAdjust="spacingAndGlyphs">NAO index</text>
<rect x="47.7" y="558.2" width="115" height="23.4" rx="2.8" fill="#ffffff" fill-opacity="0.8" stroke="#c8c8c8" stroke-width="1.25"/>
<line x1="52" x2="81.7" y1="569.4" y2="569.4" stroke="#333333" stroke-width="2"/>
<text x="92" y="574" class="t" textLength="65" lengthAdjust="spacingAndGlyphs">ERA5 era5</text>
</svg>
</body></html>
